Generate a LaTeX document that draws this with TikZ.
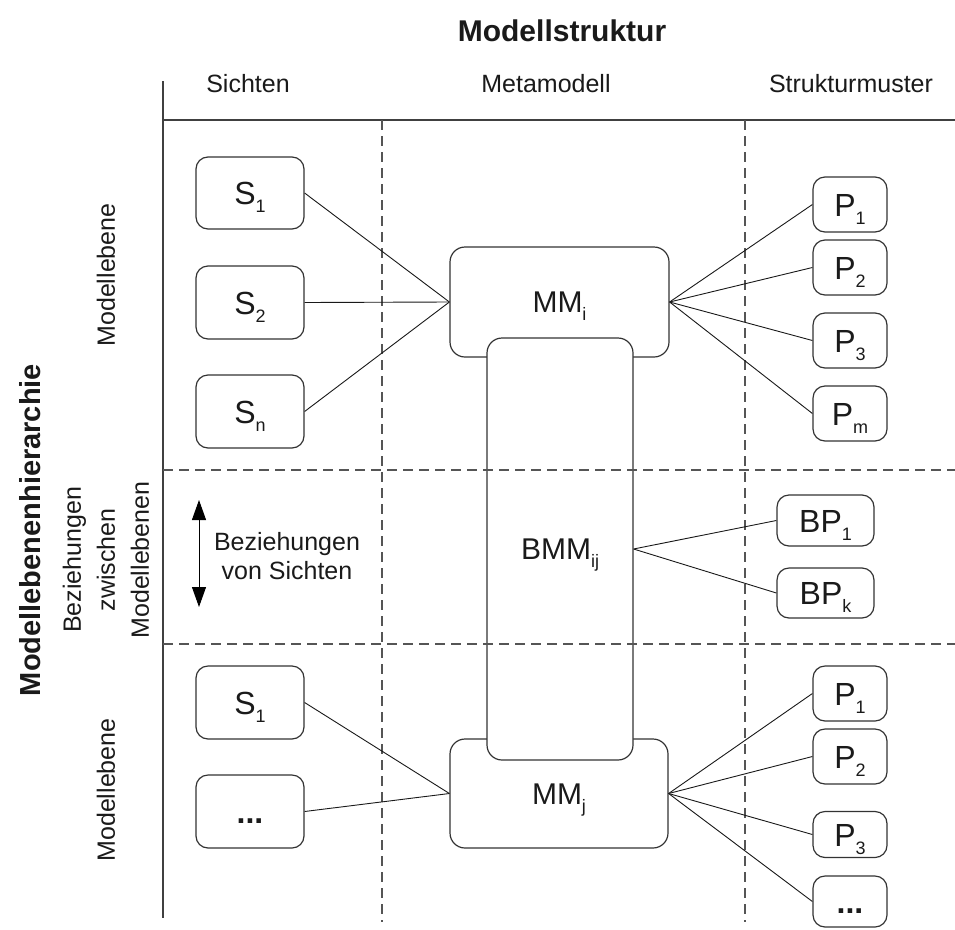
\documentclass[tikz,border=0pt]{standalone}
\usepackage{fontspec}
\setmainfont{Liberation Sans}
\usetikzlibrary{arrows.meta}
\definecolor{txt}{HTML}{1A1A1A}
\definecolor{boxline}{HTML}{333333}
\definecolor{sepline}{HTML}{555555}
\newcommand{\subtxt}[1]{\raisebox{-0.26em}{\fontsize{18}{18}\selectfont #1}}
\begin{document}
\begin{tikzpicture}[x=1pt,y=-1pt,
  box/.style={draw=boxline, line width=1.2pt, rounded corners=12pt, inner sep=0pt,
    font=\fontsize{32}{32}\selectfont, text=txt, text height=23pt, text depth=0pt, align=center},
  bigbox/.style={box, rounded corners=15pt, font=\fontsize{30}{30}\selectfont, text height=21.5pt},
  conn/.style={draw=black!90, line width=0.9pt},
  sepdash/.style={draw=sepline, line width=1.2pt, dash pattern=on 10pt off 6pt},
  frame/.style={draw=black!75, line width=1.2pt},
  hdr/.style={font=\fontsize{25}{25}\selectfont, text=txt, anchor=base, inner sep=0pt},
  side/.style={font=\fontsize{25}{34}\selectfont, text=txt, rotate=90, align=center, inner sep=0pt},
  dblarrow/.style={draw=black, line width=1pt, {Triangle[length=20pt,width=14pt]}-{Triangle[length=20pt,width=14pt]}}
]
\useasboundingbox (0,0) rectangle (955,929);

% titles
\node[font=\bfseries\fontsize{30}{30}\selectfont, text=txt, anchor=base, inner sep=0pt] (title) at (562,41) {Modellstruktur};
\node[font=\bfseries\fontsize{29}{29}\selectfont, text=txt, rotate=90, inner sep=0pt] (hier) at (30,530) {Modellebenenhierarchie};
\node[hdr] (hS) at (248,92) {Sichten};
\node[hdr] (hM) at (546,92) {Metamodell};
\node[hdr] (hP) at (851,92) {Strukturmuster};
\node[side] (ml1) at (106,275) {Modellebene};
\node[side] (bz) at (106,560) {Beziehungen\\zwischen\\Modellebenen};
\node[side] (ml2) at (106,790) {Modellebene};

% frame
\coordinate (vTop) at (163,81);
\coordinate (vBot) at (163,918);
\coordinate (hL) at (163,120);
\coordinate (hR) at (955,120);
\draw[frame] (vTop) -- (vBot);
\draw[frame] (hL) -- (hR);

% boxes
\node[box, minimum width=108pt, minimum height=72pt] (S1) at (250,193) {S\subtxt{1}};
\node[box, minimum width=108pt, minimum height=73pt] (S2) at (250,302.5) {S\subtxt{2}};
\node[box, minimum width=108pt, minimum height=73pt] (Sn) at (250,411.5) {S\subtxt{n}};
\node[box, minimum width=108pt, minimum height=73pt] (T1) at (250,702.5) {S\subtxt{1}};
\node[box, minimum width=108pt, minimum height=73pt] (Td) at (250,811.5) {\textbf{...}};

\node[bigbox, minimum width=219pt, minimum height=110pt] (MMi) at (559.5,302) {MM\subtxt{i}};
\node[bigbox, minimum width=218pt, minimum height=109pt] (MMj) at (559,793.5) {MM\subtxt{j}};
\node[bigbox, fill=white, minimum width=146pt, minimum height=422pt] (BMM) at (560,549) {BMM\subtxt{ij}};

\node[box, minimum width=74pt, minimum height=55pt] (P1) at (850,204.5) {P\subtxt{1}};
\node[box, minimum width=74pt, minimum height=55pt] (P2) at (850,267.5) {P\subtxt{2}};
\node[box, minimum width=74pt, minimum height=55pt] (P3) at (850,340.5) {P\subtxt{3}};
\node[box, minimum width=74pt, minimum height=55pt] (Pm) at (850,413.5) {P\subtxt{m}};

\node[box, minimum width=97pt, minimum height=51pt] (BP1) at (825.5,520.5) {BP\subtxt{1}};
\node[box, minimum width=97pt, minimum height=50pt] (BPk) at (825.5,593) {BP\subtxt{k}};

\node[box, minimum width=74pt, minimum height=55pt] (Q1) at (850,693.5) {P\subtxt{1}};
\node[box, minimum width=74pt, minimum height=55pt] (Q2) at (850,756.5) {P\subtxt{2}};
\node[box, minimum width=74pt, minimum height=46pt] (Q3) at (850,834.5) {P\subtxt{3}};
\node[box, minimum width=74pt, minimum height=51pt] (Qd) at (850,901.5) {\textbf{...}};

% dashed separators
\coordinate (d1t) at (382,120); \coordinate (d1b) at (382,922);
\coordinate (d2t) at (745,120); \coordinate (d2b) at (745,922);
\coordinate (h1l) at (163,470); \coordinate (h1r) at (955,470);
\coordinate (h2l) at (163,644); \coordinate (h2r) at (955,644);
\draw[sepdash] (d1t) -- (d1b);
\draw[sepdash] (d2t) -- (d2b);
\draw[sepdash] (h1l) -- (h1r);
\draw[sepdash] (h2l) -- (h2r);

% connectors
\draw[conn] (S1.east) -- (MMi.west);
\draw[conn] (S2.east) -- (MMi.west);
\draw[conn] (Sn.east) -- (MMi.west);
\draw[conn] (T1.east) -- (MMj.west);
\draw[conn] (Td.east) -- (MMj.west);
\foreach \n in {P1,P2,P3,Pm} \draw[conn] (MMi.east) -- (\n.west);
\foreach \n in {Q1,Q2,Q3,Qd} \draw[conn] (MMj.east) -- (\n.west);
\draw[conn] (BMM.east) -- (BP1.west);
\draw[conn] (BMM.east) -- (BPk.west);

% relation of views
\coordinate (aTop) at (199,500);
\coordinate (aBot) at (199,607);
\draw[dblarrow] (aTop) -- (aBot);
\node[font=\fontsize{25}{29}\selectfont, text=txt, align=center, inner sep=0pt] (bvs) at (287,556) {Beziehungen\\von Sichten};
\end{tikzpicture}
\end{document}
